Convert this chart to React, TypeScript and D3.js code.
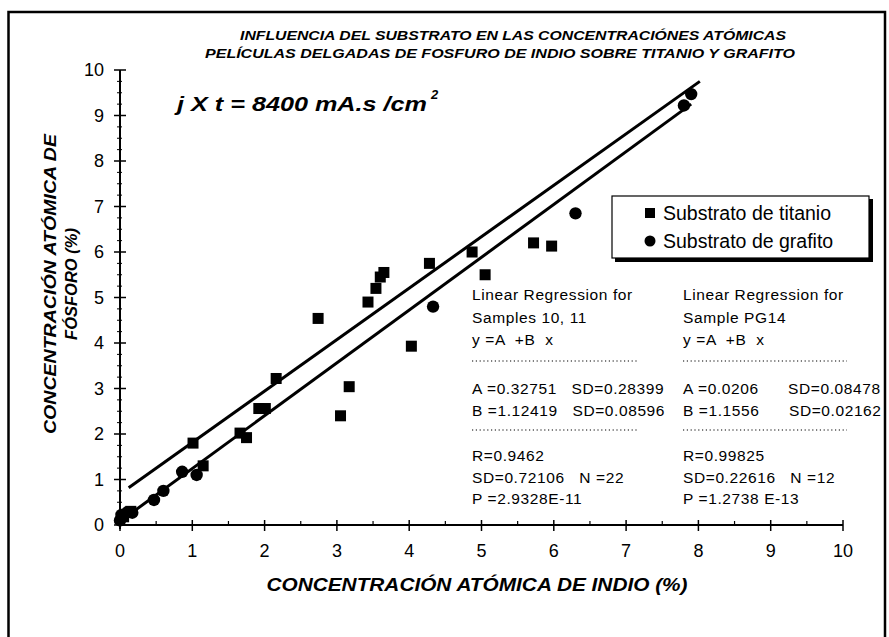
import React from "react";
import * as d3 from "d3";

const titanioX = [0.05, 0.15, 1.01, 1.15, 1.66, 1.75, 1.92, 2.01, 2.16, 2.74, 3.05, 3.17, 3.43, 3.54, 3.6, 3.65, 4.03, 4.28, 4.87, 5.05, 5.72, 5.97];
const titanioY = [0.18, 0.3, 1.8, 1.3, 2.02, 1.92, 2.56, 2.56, 3.22, 4.54, 2.4, 3.04, 4.9, 5.2, 5.45, 5.55, 3.93, 5.75, 6.0, 5.5, 6.2, 6.13];
const grafitoX = [0.0, 0.02, 0.1, 0.17, 0.47, 0.6, 0.86, 1.06, 4.33, 6.3, 7.8, 7.9];
const grafitoY = [0.1, 0.22, 0.28, 0.27, 0.55, 0.75, 1.17, 1.1, 4.8, 6.85, 9.22, 9.47];
const fitTitanio: [number, number][] = [[0.12, 0.82], [8.02, 9.75]];
const fitGrafito: [number, number][] = [[0.0, 0.08], [7.9, 9.25]];

const xTicks = [0, 1, 2, 3, 4, 5, 6, 7, 8, 9, 10];
const yTicks = [0, 1, 2, 3, 4, 5, 6, 7, 8, 9, 10];

const titleLines = [
  "INFLUENCIA DEL SUBSTRATO EN LAS CONCENTRACIÓNES ATÓMICAS",
  "PELÍCULAS DELGADAS DE FOSFURO DE INDIO SOBRE TITANIO Y GRAFITO",
];
const xTitle = "CONCENTRACIÓN ATÓMICA DE INDIO (%)";
const yTitleLines = ["CONCENTRACIÓN ATÓMICA DE", "FÓSFORO (%)"];
const legendLabels = ["Substrato de titanio", "Substrato de grafito"];

const reg1 = [
  "Linear Regression for",
  "Samples 10, 11",
  "y =A  +B  x",
  "---",
  "A =0.32751   SD=0.28399",
  "B =1.12419   SD=0.08596",
  "---",
  "R=0.9462",
  "SD=0.72106   N =22",
  "P =2.9328E-11",
];
const reg2 = [
  "Linear Regression for",
  "Sample PG14",
  "y =A  +B  x",
  "---",
  "A =0.0206      SD=0.08478",
  "B =1.1556      SD=0.02162",
  "---",
  "R=0.99825",
  "SD=0.22616   N =12",
  "P =1.2738 E-13",
];
const regY = [295, 318, 340, 361, 389, 411, 430, 456, 478, 499];

export default function App() {
  const W = 889, H = 637;
  const x = d3.scaleLinear().domain([0, 10]).range([120, 843]);
  const y = d3.scaleLinear().domain([0, 10]).range([525, 70]);
  const line = d3.line<[number, number]>().x(d => x(d[0])).y(d => y(d[1]));
  const xMinor = d3.range(0.5, 10, 1);
  const yMinor = d3.range(0, 10.001, 0.25).filter(v => Math.abs(v - Math.round(v)) > 0.01);
  const font = "'Liberation Sans', Arial, sans-serif";
  const sq = 11;

  const regBlock = (lines: string[], x0: number, x1: number) =>
    lines.map((t, i) =>
      t === "---" ? (
        <line key={i} x1={x0} x2={x1} y1={regY[i]} y2={regY[i]} stroke="#000" strokeWidth={1.2} strokeDasharray="1.2 2.6" />
      ) : (
        <text key={i} x={x0} y={regY[i] + 5} fontSize={15.5} letterSpacing={0.6} fontFamily={font} xmlSpace="preserve" style={{ whiteSpace: "pre" }}>
          {t}
        </text>
      )
    );

  return (
    <svg width={W} height={H} style={{ position: "absolute", left: 0, top: 0, background: "#fff" }}>
      <rect x={0} y={0} width={W} height={H} fill="#fff" />
      {/* frame */}
      <path d={`M8.5,${H + 5} L8.5,12 L885,12 L885,${H + 5}`} fill="none" stroke="#000" strokeWidth={2.5} />

      {/* title */}
      <text x={240} y={40} textLength={546} lengthAdjust="spacingAndGlyphs" fontSize={13.5} fontWeight="bold" fontStyle="italic" fontFamily={font}>{titleLines[0]}</text>
      <text x={205} y={58} textLength={590} lengthAdjust="spacingAndGlyphs" fontSize={13.5} fontWeight="bold" fontStyle="italic" fontFamily={font}>{titleLines[1]}</text>

      {/* annotation */}
      <text x={177} y={111} fontSize={21} fontWeight="bold" fontStyle="italic" fontFamily={font} textLength={250} lengthAdjust="spacingAndGlyphs">j X t = 8400 mA.s /cm</text>
      <text x={431} y={99} fontSize={13} fontWeight="bold" fontStyle="italic" fontFamily={font}>2</text>

      {/* axes */}
      <line x1={x(0)} x2={x(10)} y1={y(0)} y2={y(0)} stroke="#000" strokeWidth={2} />
      <line x1={x(0)} x2={x(0)} y1={y(0) + 4} y2={y(10)} stroke="#000" strokeWidth={2} />
      {xTicks.map(v => (
        <line key={"xt" + v} x1={x(v)} x2={x(v)} y1={y(0) - 5} y2={y(0) + 6} stroke="#000" strokeWidth={1.5} />
      ))}
      {xMinor.map(v => (
        <line key={"xm" + v} x1={x(v)} x2={x(v)} y1={y(0) - 4} y2={y(0)} stroke="#000" strokeWidth={1.2} />
      ))}
      {yTicks.map(v => (
        <line key={"yt" + v} x1={x(0) - 6} x2={x(0) + 6} y1={y(v)} y2={y(v)} stroke="#000" strokeWidth={1.5} />
      ))}
      {yMinor.map(v => (
        <line key={"ym" + v} x1={x(0) - 3} x2={x(0) + 2} y1={y(v)} y2={y(v)} stroke="#000" strokeWidth={1} />
      ))}
      {xTicks.map(v => (
        <text key={"xl" + v} x={x(v)} y={557} textAnchor="middle" fontSize={18} fontFamily={font}>{v}</text>
      ))}
      {yTicks.map(v => (
        <text key={"yl" + v} x={104} y={y(v) + 6} textAnchor="end" fontSize={18} fontFamily={font}>{v}</text>
      ))}

      {/* axis titles */}
      <text x={477} y={591} textAnchor="middle" fontSize={18} fontWeight="bold" fontStyle="italic" fontFamily={font} textLength={421} lengthAdjust="spacingAndGlyphs">{xTitle}</text>
      <g transform="translate(56,284) rotate(-90)">
        <text x={0} y={0} textAnchor="middle" fontSize={16.5} fontWeight="bold" fontStyle="italic" fontFamily={font} textLength={300} lengthAdjust="spacingAndGlyphs">{yTitleLines[0]}</text>
        <text x={0} y={21} textAnchor="middle" fontSize={16.5} fontWeight="bold" fontStyle="italic" fontFamily={font}>{yTitleLines[1]}</text>
      </g>

      {/* regression lines */}
      <path d={line(fitTitanio) || ""} fill="none" stroke="#000" strokeWidth={3} />
      <path d={line(fitGrafito) || ""} fill="none" stroke="#000" strokeWidth={3} />

      {/* points */}
      {titanioX.map((v, i) => (
        <rect key={"t" + i} x={x(v) - sq / 2} y={y(titanioY[i]) - sq / 2} width={sq} height={sq} fill="#000" />
      ))}
      {grafitoX.map((v, i) => (
        <circle key={"g" + i} cx={x(v)} cy={y(grafitoY[i])} r={6.2} fill="#000" />
      ))}

      {/* legend */}
      <rect x={615} y={199} width={258} height={63} fill="#000" />
      <rect x={612} y={196} width={257} height={62} fill="#fff" stroke="#000" strokeWidth={1.2} />
      <rect x={650 - 5} y={213 - 5} width={10} height={10} fill="#000" />
      <circle cx={650} cy={241} r={5.5} fill="#000" />
      <text x={663} y={220} fontSize={19.5} fontFamily={font}>{legendLabels[0]}</text>
      <text x={663} y={248} fontSize={19.5} fontFamily={font}>{legendLabels[1]}</text>

      {/* regression stats */}
      {regBlock(reg1, 472, 637)}
      {regBlock(reg2, 683, 847)}
    </svg>
  );
}
